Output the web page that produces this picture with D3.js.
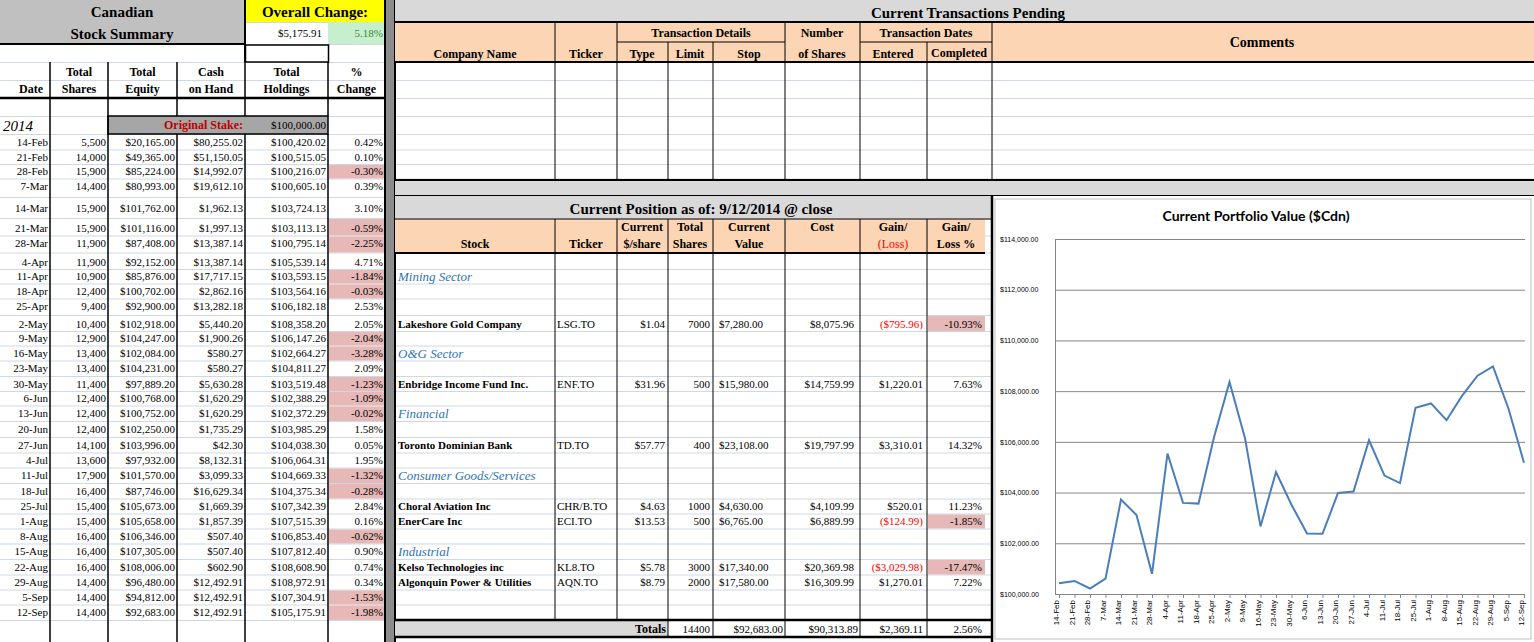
<!DOCTYPE html>
<html><head><meta charset="utf-8">
<script src="https://cdn.jsdelivr.net/npm/d3@7"></script>
<style>body{margin:0;background:#fff}svg{display:block}</style>
</head><body><div id="sheet"></div>
<script>
// weekly summary data
var dates = ["14-Feb","21-Feb","28-Feb","7-Mar","14-Mar","21-Mar","28-Mar","4-Apr","11-Apr","18-Apr","25-Apr","2-May","9-May","16-May","23-May","30-May","6-Jun","13-Jun","20-Jun","27-Jun","4-Jul","11-Jul","18-Jul","25-Jul","1-Aug","8-Aug","15-Aug","22-Aug","29-Aug","5-Sep","12-Sep"];
var totalShares = [5500,14000,15900,14400,15900,15900,11900,11900,10900,12400,9400,10400,12900,13400,13400,11400,12400,12400,12400,14100,13600,17900,16400,15400,15400,16400,16400,16400,14400,14400,14400];
var totalEquity = [20165,49365,85224,80993,101762,101116,87408,92152,85876,100702,92900,102918,104247,102084,104231,97889.2,100768,100752,102250,103996,97932,101570,87746,105673,105658,106346,107305,108006,96480,94812,92683];
var cashOnHand = [80255.02,51150.05,14992.07,19612.10,1962.13,1997.13,13387.14,13387.14,17717.15,2862.16,13282.18,5440.20,1900.26,580.27,580.27,5630.28,1620.29,1620.29,1735.29,42.30,8132.31,3099.33,16629.34,1669.39,1857.39,507.40,507.40,602.90,12492.91,12492.91,12492.91];
var totalHoldings = [100420.02,100515.05,100216.07,100605.10,103724.13,103113.13,100795.14,105539.14,103593.15,103564.16,106182.18,108358.20,106147.26,102664.27,104811.27,103519.48,102388.29,102372.29,103985.29,104038.30,106064.31,104669.33,104375.34,107342.39,107515.39,106853.40,107812.40,108608.90,108972.91,107304.91,105175.91];
var pctChange = [0.42,0.10,-0.30,0.39,3.10,-0.59,-2.25,4.71,-1.84,-0.03,2.53,2.05,-2.04,-3.28,2.09,-1.23,-1.09,-0.02,1.58,0.05,1.95,-1.32,-0.28,2.84,0.16,-0.62,0.90,0.74,0.34,-1.53,-1.98];

// current positions
var sectors = ["Mining Sector","O&G Sector","Financial","Consumer Goods/Services","Industrial"];
var sectorRows = [8,13,17,21,26];
var stocks = ["Lakeshore Gold Company","Enbridge Income Fund Inc.","Toronto Dominian Bank","Choral Aviation Inc","EnerCare Inc","Kelso Technologies inc","Algonquin Power & Utilities"];
var tickers = ["LSG.TO","ENF.TO","TD.TO","CHR/B.TO","ECI.TO","KL8.TO","AQN.TO"];
var stockRows = [11,15,19,23,24,27,28];
var pricePerShare = [1.04,31.96,57.77,4.63,13.53,5.78,8.79];
var sharesHeld = [7000,500,400,1000,500,3000,2000];
var currentValue = [7280,15980,23108,4630,6765,17340,17580];
var cost = [8075.96,14759.99,19797.99,4109.99,6889.99,20369.98,16309.99];
var gainLoss = [-795.96,1220.01,3310.01,520.01,-124.99,-3029.98,1270.01];
var gainLossPct = [-10.93,7.63,14.32,11.23,-1.85,-17.47,7.22];
var totals = {shares:14400, value:92683, cost:90313.89, gain:2369.11, pct:2.56};
var overallChange = 5175.91, overallPct = 5.18, originalStake = 100000;
var yTicks = [100000,102000,104000,106000,108000,110000,112000,114000];

var W = 1534, H = 642;
var svg = d3.select("#sheet").append("svg").attr("width", W).attr("height", H)
  .style("font-family", "'Liberation Serif','Times New Roman',serif");

var money = function (v) { return (v < 0 ? "(" : "") + "$" + d3.format(",.2f")(Math.abs(v)) + (v < 0 ? ")" : ""); };
var pct = function (v) { return v.toFixed(2) + "%"; };

// row centres on the sheet grid (shared by both tables)
var rowY = [142,157,171,186,208,228,243,262,276,291,306,324,338,353,368,384,398,413,429,445,460,475,491,506,521,536,551,567,582,597,612];
var rowLines = [134];
for (var i = 1; i < rowY.length; i++) rowLines.push((rowY[i - 1] + rowY[i]) / 2);
rowLines.push(620);

function rect(x, y, w, h, fill) {
  return svg.append("rect").attr("x", x).attr("y", y).attr("width", w).attr("height", h).attr("fill", fill);
}
function line(x1, y1, x2, y2, col, sw) {
  svg.append("line").attr("x1", x1).attr("y1", y1).attr("x2", x2).attr("y2", y2)
    .attr("stroke", col).attr("stroke-width", sw || 1);
}
function text(x, y, s, opt) {
  opt = opt || {};
  return svg.append("text").attr("x", x).attr("y", y).text(s)
    .attr("text-anchor", opt.anchor || "start")
    .attr("font-size", opt.size || 11)
    .attr("font-weight", opt.bold ? "bold" : "normal")
    .attr("font-style", opt.italic ? "italic" : "normal")
    .attr("fill", opt.color || "#000");
}
var H12 = {anchor:"middle", bold:true, size:12};

// light sheet gridlines
var grid = "#d0d7e5";
[22,44,62,80,98,116].concat(rowLines).forEach(function (y) { line(0, y + 0.5, W, y + 0.5, grid); });

// ---------- left table ----------
var lx = [0,50,108,177,245,328,385];
rect(0, 0, 245, 44, "#c0c0c0");
text(122, 17, "Canadian", {anchor:"middle", size:15, bold:true});
text(122, 39, "Stock Summary", {anchor:"middle", size:15, bold:true});
rect(245, 0, 140, 22, "#ffff00");
text(315, 17, "Overall Change:", {anchor:"middle", size:15, bold:true});
rect(328, 22, 57, 22, "#c6efce");
text(322, 37, money(overallChange), {anchor:"end"});
text(383, 37, pct(overallPct), {anchor:"end", color:"#3a8a3a"});
svg.append("rect").attr("x", 245.5).attr("y", 45).attr("width", 83).attr("height", 17)
  .attr("fill", "none").attr("stroke", "#000").attr("stroke-width", 1.5);
line(0, 44, 245, 44, "#000", 2);

var hdr1 = ["", "Total","Total","Cash","Total","%"];
var hdr2 = ["Date","Shares","Equity","on Hand","Holdings","Change"];
for (var c = 0; c < 6; c++) {
  var cx = (lx[c] + lx[c + 1]) / 2 + (c === 0 ? 6 : 0);
  text(cx, 76, hdr1[c], H12);
  text(cx, 93, hdr2[c], H12);
}
line(0, 98, 385, 98, "#000", 2.5);
text(3, 131, "2014", {size:15, italic:true});
rect(108, 116, 220, 18, "#a6a6a6");
svg.append("rect").attr("x", 108).attr("y", 116).attr("width", 220).attr("height", 18)
  .attr("fill", "none").attr("stroke", "#000").attr("stroke-width", 1.5);
text(243, 129, "Original Stake:", {anchor:"end", bold:true, size:12, color:"#c00000"});
text(326, 129, money(originalStake), {anchor:"end"});

dates.forEach(function (d, i) {
  var y = rowY[i] + 4;
  if (pctChange[i] < 0) rect(329, rowLines[i] + 1, 56, rowLines[i + 1] - rowLines[i] - 1, "#e6b8b7");
  text(48, y, d, {anchor:"end"});
  text(106, y, d3.format(",")(totalShares[i]), {anchor:"end"});
  text(175, y, money(totalEquity[i]), {anchor:"end"});
  text(243, y, money(cashOnHand[i]), {anchor:"end"});
  text(326, y, money(totalHoldings[i]), {anchor:"end"});
  text(383, y, pct(pctChange[i]), {anchor:"end"});
});
[50,108,177,245,328].forEach(function (x) { line(x, 62, x, 116, "#000", 1.5); });
[50,108].forEach(function (x) { line(x, 116, x, H, "#000", 1.5); });
[177,245,328].forEach(function (x) { line(x, 134, x, H, "#000", 1.5); });
line(245, 0, 245, 62, "#000", 2);
rect(385, 0, 10, H, "#8c8c8c");
line(385, 0, 385, H, "#000", 2); line(395, 0, 395, H, "#000", 2);

// ---------- pending transactions ----------
rect(395, 0, W - 395, 22, "#d9d9d9");
text(968, 18, "Current Transactions Pending", {anchor:"middle", size:15, bold:true});
rect(395, 22, W - 395, 40, "#fcd5b4");
line(395, 22, W, 22, "#000", 2);
line(395, 62, W, 62, "#000", 2);
line(617, 42, 785, 42, "#000", 1); line(860, 42, 992, 42, "#000", 1);
[555,617,785,860,992].forEach(function (x) { line(x, 22, x, 180, "#000", 1); });
[668,713,927].forEach(function (x) { line(x, 42, x, 180, "#000", 1); });
text(475, 58, "Company Name", H12);
text(586, 58, "Ticker", H12);
text(701, 37, "Transaction Details", H12);
text(642, 58, "Type", H12);
text(690, 58, "Limit", H12);
text(749, 58, "Stop", H12);
text(822, 37, "Number", H12);
text(822, 58, "of Shares", H12);
text(926, 37, "Transaction Dates", H12);
text(893, 58, "Entered", H12);
text(959, 57, "Completed", H12);
text(1262, 47, "Comments", {anchor:"middle", size:14, bold:true});
rect(395, 180, W - 395, 16, "#d9d9d9");
line(395, 180, W, 180, "#000", 2); line(395, 196, W, 196, "#000", 2);

// ---------- current position ----------
rect(395, 196, 597, 23, "#d9d9d9");
text(701, 214, "Current Position as of: 9/12/2014  @ close", {anchor:"middle", size:15, bold:true});
rect(395, 219, 590, 34, "#fcd5b4");
line(395, 219, 992, 219, "#000", 1);
line(395, 253, 985, 253, "#000", 2);
[555,617,668,713,785,860,927].forEach(function (x) { line(x, 219, x, 620, "#000", 1); });
text(475, 248, "Stock", H12);
text(586, 248, "Ticker", H12);
text(642, 231, "Current", H12);
text(642, 248, "$/share", H12);
text(690, 231, "Total", H12);
text(690, 248, "Shares", H12);
text(749, 231, "Current", H12);
text(749, 248, "Value", H12);
text(822, 231, "Cost", H12);
text(893, 231, "Gain/", H12);
text(893, 248, "(Loss)", {anchor:"middle", size:12, color:"#ff0000"});
text(956, 231, "Gain/", H12);
text(956, 248, "Loss %", H12);

sectors.forEach(function (s, i) {
  text(398, rowY[sectorRows[i]] + 5, s, {size:13, italic:true, color:"#2e75b6"});
});
stocks.forEach(function (s, i) {
  var r = stockRows[i], y = rowY[r] + 4;
  if (gainLossPct[i] < 0) rect(928, rowLines[r] + 1, 57, rowLines[r + 1] - rowLines[r] - 1, "#e6b8b7");
  text(398, y, s, {bold:true});
  text(557, y, tickers[i]);
  text(665, y, money(pricePerShare[i]), {anchor:"end"});
  text(710, y, sharesHeld[i], {anchor:"end"});
  text(719, y, money(currentValue[i]));
  text(854, y, money(cost[i]), {anchor:"end"});
  text(923, y, money(gainLoss[i]), {anchor:"end", color:gainLoss[i] < 0 ? "#ff0000" : "#000"});
  text(982, y, pct(gainLossPct[i]), {anchor:"end"});
});
rect(395, 621, 273, 16, "#d9d9d9");
line(395, 620, 992, 620, "#000", 2.5); line(395, 637, 992, 637, "#000", 2.5);
[668,713,785,860,927].forEach(function (x) { line(x, 620, x, 637, "#000", 1); });
text(666, 633, "Totals", {anchor:"end", bold:true, size:12});
text(710, 633, totals.shares, {anchor:"end"});
text(783, 633, money(totals.value), {anchor:"end"});
text(858, 633, money(totals.cost), {anchor:"end"});
text(923, 633, money(totals.gain), {anchor:"end"});
text(982, 633, pct(totals.pct), {anchor:"end"});

// ---------- chart ----------
rect(992, 196, W - 992, H - 196, "#fff");
line(992, 196, 992, H, "#000", 2.5);
svg.append("rect").attr("x", 995).attr("y", 199).attr("width", W - 998).attr("height", H - 202)
  .attr("fill", "none").attr("stroke", "#bfbfbf");
text(1256, 221, "Current Portfolio Value ($Cdn)", {anchor:"middle", size:14, bold:true})
  .style("font-family", "Lato, 'Open Sans', sans-serif");

var x = d3.scalePoint().domain(dates).range([1059, 1524]);
var y = d3.scaleLinear().domain([100000, 114000]).range([594, 239]);
var chart = svg.append("g").style("font-family", "'Open Sans', Arial, sans-serif");
chart.append("g").attr("transform", "translate(1055,0)")
  .call(d3.axisLeft(y).tickValues(yTicks).tickSize(-470).tickFormat(function (v) { return "$" + d3.format(",.2f")(v); }))
  .call(function (g) {
    g.select(".domain").attr("stroke", "#868686");
    g.selectAll(".tick line").attr("stroke", "#868686");
    g.selectAll(".tick text").attr("x", -55).attr("text-anchor", "start").attr("font-size", 7).attr("fill", "#000");
  });
chart.append("g").attr("transform", "translate(0,594)")
  .call(d3.axisBottom(x).tickSize(4))
  .call(function (g) {
    g.select(".domain").remove();
    g.selectAll(".tick line").attr("stroke", "#868686");
    g.selectAll(".tick text").attr("transform", "rotate(-90)").attr("text-anchor", "end")
      .attr("x", -6).attr("y", -3).attr("dy", "0.35em").attr("font-size", 8).attr("fill", "#000");
  });
chart.append("path").datum(totalHoldings)
  .attr("fill", "none").attr("stroke", "#4a7ebb").attr("stroke-width", 2)
  .attr("d", d3.line().x(function (d, i) { return x(dates[i]); }).y(function (d) { return y(d); }));
</script></body></html>
